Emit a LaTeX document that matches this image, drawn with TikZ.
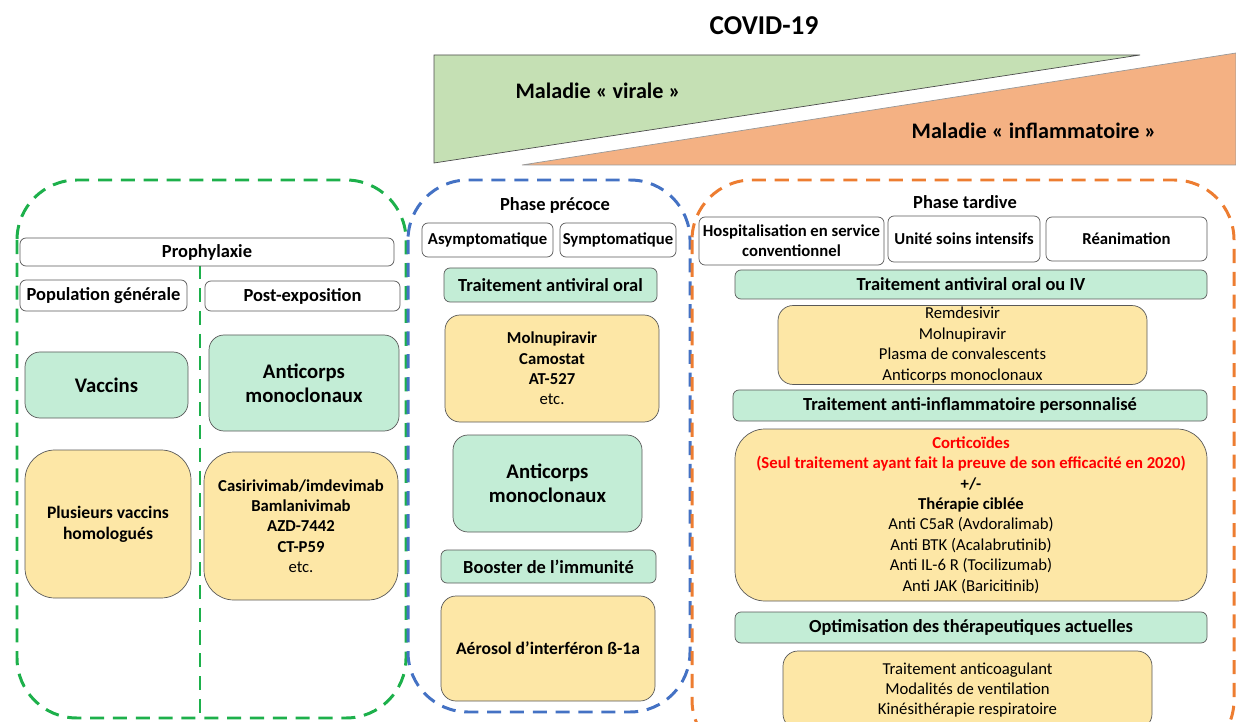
\documentclass[tikz,border=0pt]{standalone}
\usepackage{fontspec}
\setmainfont{Carlito}
\usetikzlibrary{positioning}
\definecolor{mint}{HTML}{C3EDD6}
\definecolor{sand}{HTML}{FDE7A6}
\definecolor{virgreen}{HTML}{C5E0B4}
\definecolor{inforange}{HTML}{F4B183}
\definecolor{zgreen}{HTML}{1DB04B}
\definecolor{zblue}{HTML}{4472C4}
\definecolor{zorange}{HTML}{ED7D31}
\tikzset{sz/.style 2 args={minimum width=#1*0.02cm, minimum height=#2*0.02cm, inner sep=1pt},
  tag/.style={draw=black!65, fill=white, rounded corners=0.12cm, align=center, font=\bfseries\fontsize{9.5}{11.5}\selectfont},
  trt/.style={draw=black!65, fill=mint, rounded corners=0.12cm, align=center, font=\bfseries\fontsize{10.5}{12}\selectfont},
  lst/.style={draw=black!65, fill=sand, rounded corners=0.3cm, align=center, font=\fontsize{9.5}{11.6}\selectfont},
  big/.style={font=\bfseries\fontsize{11.8}{13.5}\selectfont, rounded corners=0.3cm},
  head/.style={font=\bfseries\fontsize{10.5}{12}\selectfont},
  zone/.style={line width=1.7pt, dash pattern=on 8pt off 5pt, rounded corners=1.2cm}}

\begin{document}
\begin{tikzpicture}[x=0.02cm, y=-0.02cm]
  \clip (0,0) rectangle (1236,722);
  \node[font=\bfseries\fontsize{15.5}{18}\selectfont] (title) at (764,26) {COVID-19};
  % viral vs inflammatory disease
  \draw[fill=virgreen, draw=black!70] (434,55) -- (1140,55) -- (434,163) -- cycle;
  \draw[fill=inforange, draw=black!40] (522,165) -- (1236,53) -- (1236,165) -- cycle;
  \node[font=\bfseries\fontsize{12.6}{14}\selectfont] (viral) at (598,91) {Maladie « virale »};
  \node[font=\bfseries\fontsize{12.6}{14}\selectfont] (inflam) at (1034,131) {Maladie « inflammatoire »};
  % three zones
  \draw[zone, zgreen] (17,180) rectangle (406,718);
  \draw[zgreen, line width=1.2pt, dash pattern=on 8pt off 5pt] (200,265) -- (200,718);
  \draw[zone, zblue] (408,180) rectangle (690,712);
  \draw[zone, zorange] (692,180) rectangle (1234,760);

  % prophylaxie
  \node[tag, head, sz={374}{28}] (proph) at (207,252) {Prophylaxie};
  \node[tag, head, sz={167}{31}] (popgen) at (103.5,295.5) {Population générale};
  \node[tag, head, sz={195}{30}] (postexp) at (302.5,296) {Post-exposition};
  \node[trt, big, sz={163}{66}] (vacc) at (106.5,385) {Vaccins};
  \node[trt, big, sz={190}{96}] (acpost) at (304,383) {Anticorps\\monoclonaux};
  \node[lst, sz={166}{148}, font=\bfseries, rounded corners=0.6cm] (vacclist) at (108,524) {Plusieurs vaccins\\homologués};
  \node[lst, sz={194}{148}, rounded corners=0.6cm] (aclist) at (301,526) {\textbf{Casirivimab/imdevimab}\\\textbf{Bamlanivimab}\\\textbf{AZD-7442}\\\textbf{CT-P59}\\etc.};

  % phase precoce
  \node[head] (precoce) at (555,205) {Phase précoce};
  \node[tag, sz={131}{34}] (asympt) at (487.5,240) {Asymptomatique};
  \node[tag, sz={116}{34}] (sympt) at (618,240) {Symptomatique};
  \node[trt, sz={213}{34}] (avoral) at (550.5,285) {Traitement antiviral oral};
  \node[lst, sz={214}{107}] (avlist) at (552,368.5) {\textbf{Molnupiravir}\\\textbf{Camostat}\\\textbf{AT-527}\\etc.};
  \node[trt, big, sz={189}{97}] (acprec) at (547.5,483.5) {Anticorps\\monoclonaux};
  \node[trt, sz={215}{33}] (booster) at (548.5,566.5) {Booster de l’immunité};
  \node[lst, sz={214}{105}, font=\bfseries] (aerosol) at (548,648.5) {Aérosol d’interféron ß-1a};

  % phase tardive
  \node[head] (tardive) at (965,202) {Phase tardive};
  \node[tag, sz={185}{48}] (hosp) at (791.5,241) {Hospitalisation en service\\conventionnel};
  \node[tag, sz={152}{46}] (usi) at (964,239) {Unité soins intensifs};
  \node[tag, sz={161}{44}] (rea) at (1126.5,239) {Réanimation};
  \node[trt, sz={472}{29}] (aviv) at (971,284.5) {Traitement antiviral oral ou IV};
  \node[lst, sz={369}{76}] (remd) at (962.5,345) {Remdesivir\\Molnupiravir\\Plasma de convalescents\\Anticorps monoclonaux};
  \node[trt, sz={474}{31}] (antiinf) at (970,405.5) {Traitement anti-inflammatoire personnalisé};
  \node[lst, sz={472}{172}, rounded corners=0.6cm] (cortic) at (971,515) {\textcolor{red}{\textbf{Corticoïdes}}\\\textcolor{red}{\textbf{(Seul traitement ayant fait la preuve de son efficacité en 2020)}}\\\textbf{+/-}\\\textbf{Thérapie ciblée}\\Anti C5aR (Avdoralimab)\\Anti BTK (Acalabrutinib)\\Anti IL-6 R (Tocilizumab)\\Anti JAK (Baricitinib)};
  \node[trt, sz={472}{31}] (optim) at (971,627.5) {Optimisation des thérapeutiques actuelles};
  \node[lst, sz={369}{78}] (anticoag) at (967.5,690) {Traitement anticoagulant\\Modalités de ventilation\\Kinésithérapie respiratoire};
\end{tikzpicture}
\end{document}
